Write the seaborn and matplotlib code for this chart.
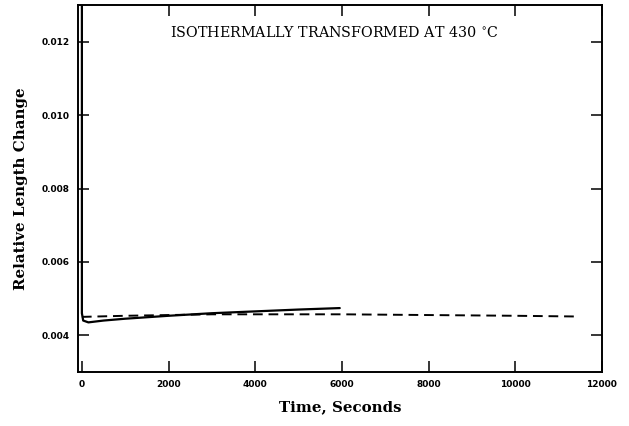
import matplotlib
matplotlib.use("Agg")
import matplotlib.pyplot as plt
import seaborn as sns
import pandas as pd

# measured curve (solid) - starts far above the axis, drops at t=0
solid_time = [0, 0, 30, 150, 500, 1000, 2000, 3000, 4000, 5000, 5950]
solid_change = [0.0140, 0.00460, 0.00440, 0.00435, 0.00440, 0.00445,
                0.00453, 0.00460, 0.00465, 0.00470, 0.00474]

# calculated curve (dashed)
dashed_time = [0, 1000, 2000, 3000, 4000, 6000, 8000, 10000, 11450]
dashed_change = [0.00450, 0.00453, 0.00455, 0.00457, 0.00457, 0.00457,
                 0.00455, 0.00453, 0.00451]

x_ticks = [0, 2000, 4000, 6000, 8000, 10000, 12000]
y_ticks = [0.004, 0.006, 0.008, 0.010, 0.012]

solid = pd.DataFrame({"t": solid_time, "v": solid_change})
dashed = pd.DataFrame({"t": dashed_time, "v": dashed_change})

sns.set_style("ticks")
plt.rcParams["font.family"] = ["DejaVu Serif"]
plt.rcParams["text.color"] = "black"
plt.rcParams["axes.labelcolor"] = "black"
plt.rcParams["xtick.color"] = "black"
plt.rcParams["ytick.color"] = "black"

fig = plt.figure(figsize=(6.29, 4.26), dpi=100)
ax = fig.add_axes([0.124, 0.127, 0.833, 0.861])

sns.lineplot(data=solid, x="t", y="v", ax=ax, sort=False, estimator=None,
             color="black", linewidth=1.6)
sns.lineplot(data=dashed, x="t", y="v", ax=ax, sort=False, estimator=None,
             color="black", linewidth=1.4, linestyle=(0, (5, 3)))

ax.set_xlim(-90, 12000)
ax.set_ylim(0.003, 0.013)
ax.set_xticks(x_ticks)
ax.set_yticks(y_ticks)
ax.set_xticklabels([str(t) for t in x_ticks], family="DejaVu Sans",
                   fontsize=6.5, fontweight="bold")
ax.set_yticklabels([f"{t:.3f}" for t in y_ticks], family="DejaVu Sans",
                   fontsize=6.5, fontweight="bold")
ax.tick_params(direction="in", length=8, width=1.1, top=True, right=True,
               pad=6)

for s in ax.spines.values():
    s.set_linewidth(1.4)
    s.set_color("black")

ax.set_xlabel("Time, Seconds", fontsize=10.8, fontweight="bold", labelpad=8)
ax.set_ylabel("Relative Length Change", fontsize=10.8, fontweight="bold",
              labelpad=10)

ax.text(0.49, 0.925, "ISOTHERMALLY TRANSFORMED AT 430 $^{\\circ}$C",
        transform=ax.transAxes, ha="center", va="center", fontsize=10.3)

fig.savefig("out.png", dpi=100)
